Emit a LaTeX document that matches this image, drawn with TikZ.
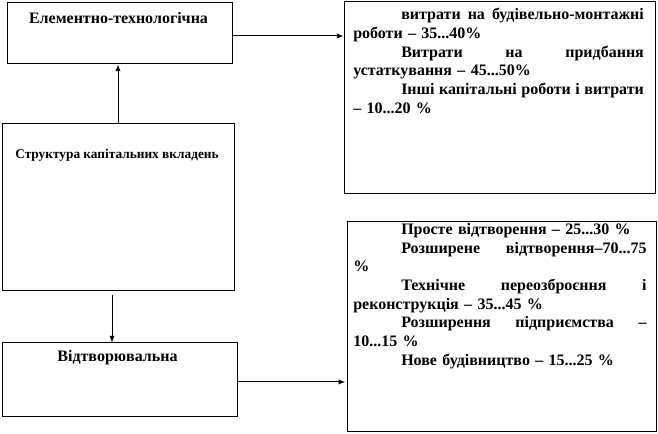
\documentclass[tikz,border=0pt]{standalone}
\usepackage{fontspec}
\setmainfont{Liberation Serif}
\usetikzlibrary{arrows.meta,calc,fit}
\newcommand{\jline}[2]{\hspace*{36pt}\hbox to #1{#2}}
\begin{document}
\begin{tikzpicture}[x=0.75pt,y=-0.75pt,
  box/.style={draw,line width=0.75pt,inner sep=0pt},
  arr/.style={line width=0.75pt,-{Latex[length=5pt,width=4pt]}},
  big/.style={font=\fontsize{12pt}{14pt}\selectfont\bfseries,inner sep=0pt},
  small/.style={font=\fontsize{10pt}{12pt}\selectfont\bfseries,inner sep=0pt},
  para/.style={anchor=north west,inner sep=0pt,text width=218pt,align=left,
    font=\fontsize{12pt}{14pt}\selectfont\bfseries}]
\useasboundingbox (0,0) rectangle (658,434);
% boxes
\node[box,fit={(7,3) (232,64)}] (b1) {};
\node[box,fit={(2,124) (234,291)}] (b2) {};
\node[box,fit={(2,343) (237,417)}] (b3) {};
\node[box,fit={(344,2) (655,194)}] (r1) {};
\node[box,fit={(347,222) (656,432)}] (r2) {};
% labels
\node[big] (t1) at (118.5,18) {Елементно-технологічна};
\node[small] (t2) at (117,155) {Структура капітальних вкладень};
\node[big] (t3) at (117.5,358) {Відтворювальна};
\node[para] (p1) at (353,8) {%
\jline{182pt}{витрати\hfill на\hfill будівельно-монтажні}\\
роботи – 35...40\%\\
\jline{182pt}{Витрати\hfill на\hfill придбання}\\
устаткування – 45...50\%\\
\jline{182pt}{Інші\hfill капітальні\hfill роботи\hfill і\hfill витрати}\\
– 10...20 \%};
\node[para,text width=220pt] (p2) at (353,223) {%
\hspace*{36pt}Просте відтворення – 25...30 \%\\
\jline{184pt}{Розширене\hfill відтворення–70...75}\\
\%\\
\jline{184pt}{Технічне\hfill переозброєння\hfill і}\\
реконструкція – 35...45 \%\\
\jline{184pt}{Розширення\hfill підприємства\hfill –}\\
10...15 \%\\
\hspace*{36pt}Нове будівництво – 15...25 \%};
% connectors
\coordinate (a1) at ($(b1.east)+(0,2.5)$);
\draw[arr] (a1) -- (a1 -| r1.west);
\draw[arr] (b2.north) -- (b2.north |- b1.south);
\coordinate (a2) at ($(b2.south)+(-6,4)$);
\draw[arr] (a2) -- (a2 |- b3.north);
\coordinate (a3) at ($(b3.east)+(0,2)$);
\draw[arr,shorten >=1pt] (a3) -- (a3 -| r2.west);
\end{tikzpicture}
\end{document}
